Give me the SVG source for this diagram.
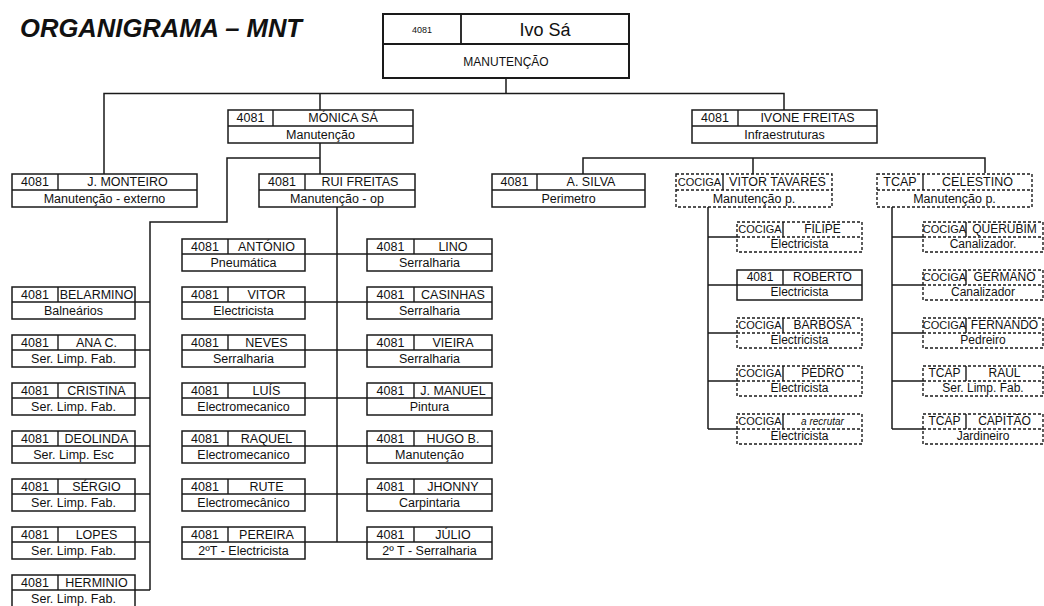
<svg xmlns="http://www.w3.org/2000/svg" width="1044" height="606" viewBox="0 0 1044 606">
<style>
.b{fill:#fff;stroke:#1a1a1a;stroke-width:1.5}
.bd{fill:#fff;stroke:#1a1a1a;stroke-width:1.4;stroke-dasharray:3 2}
.d{fill:none;stroke:#1a1a1a;stroke-width:1.4}
.dd{fill:none;stroke:#1a1a1a;stroke-width:1.4;stroke-dasharray:3 2}
.ln{fill:none;stroke:#1a1a1a;stroke-width:1.5}
text{font-family:"Liberation Sans",Arial,sans-serif;font-size:12.5px;fill:#111;text-anchor:middle}
.s{font-size:12px}
.cc{font-size:11px}
.rec{font-size:10px;font-style:italic}
.title{font-size:25px;font-weight:bold;font-style:italic;text-anchor:start}
</style>
<rect width="1044" height="606" fill="#fff"/>
<text class="title" x="20" y="37" textLength="282" lengthAdjust="spacingAndGlyphs">ORGANIGRAMA – MNT</text>

<g id="connectors">
<path class="ln" d="M506 78V93.5M104 174V93.5H784V110M320 93.5V110M320 143V174M320 158H227V222H150V590"/>
<path class="ln" d="M135 302H150M135 350H150M135 398H150M135 446H150M135 494H150M135 542H150M135 590H150"/>
<path class="ln" d="M337 207V542M305 254H367M305 302H367M305 350H367M305 398H367M305 446H367M305 494H367M305 542H367"/>
<path class="ln" d="M583 174V158H985V173M753 158V174"/>
<path class="ln" d="M708 207V429M708 237H737M708 285H737M708 333H737M708 381H737M708 429H737"/>
<path class="ln" d="M892 206V429M892 237H923M892 285H923M892 333H923M892 381H923M892 429H923"/>
</g>

<g id="n-ivo">
<rect x="383" y="14" width="246" height="64" fill="#fff" stroke="#1a1a1a" stroke-width="2"/>
<path d="M383 44H629M461 14V44" fill="none" stroke="#1a1a1a" stroke-width="1.8"/>
<text x="422" y="33" style="font-size:9px">4081</text>
<text x="545" y="36" style="font-size:18px">Ivo Sá</text>
<text x="506" y="66" style="font-size:12px">MANUTENÇÃO</text>
</g>

<g id="n-monica"><rect class="b" x="228" y="110" width="185" height="33"/><path class="d" d="M228 126H413M273 110V126"/><text x="250.5" y="122">4081</text><text x="343" y="122">MÓNICA SÁ</text><text x="320.5" y="139">Manutenção</text></g>
<g id="n-ivone"><rect class="b" x="692" y="110" width="185" height="33"/><path class="d" d="M692 126H877M738 110V126"/><text x="715" y="122">4081</text><text x="807.5" y="122">IVONE FREITAS</text><text x="784.5" y="139">Infraestruturas</text></g>

<g id="n-monteiro"><rect class="b" x="12" y="174" width="185" height="33"/><path class="d" d="M12 190H197M58 174V190"/><text x="35" y="186">4081</text><text x="127.5" y="186">J. MONTEIRO</text><text x="104.5" y="203">Manutenção - externo</text></g>
<g id="n-rui"><rect class="b" x="259" y="174" width="156" height="33"/><path class="d" d="M259 190H415M305 174V190"/><text x="282" y="186">4081</text><text x="360" y="186">RUI FREITAS</text><text x="337" y="203">Manutenção - op</text></g>
<g id="n-silva"><rect class="b" x="492" y="174" width="153" height="33"/><path class="d" d="M492 190H645M537 174V190"/><text x="514.5" y="186">4081</text><text x="591" y="186">A. SILVA</text><text x="568.5" y="203">Perimetro</text></g>
<g id="n-vitortavares"><rect class="bd" x="676" y="174" width="156" height="33"/><path class="dd" d="M676 190H832"/><path class="d" d="M723 174V190"/><text class="cc" x="699.5" y="186">COCIGA</text><text x="777.5" y="186">VITOR TAVARES</text><text x="754" y="203">Manutenção p.</text></g>
<g id="n-celestino"><rect class="bd" x="877" y="174" width="155" height="33"/><path class="dd" d="M877 190H1032"/><path class="d" d="M923 174V190"/><text x="900" y="186">TCAP</text><text x="977.5" y="186">CELESTINO</text><text x="954.5" y="203">Manutenção p.</text></g>

<!-- left column -->
<g id="n-belarmino"><rect class="b" x="12" y="287" width="123" height="32"/><path class="d" d="M12 302H135M58 287V302"/><text x="35" y="299">4081</text><text x="96.5" y="299">BELARMINO</text><text x="73.5" y="315">Balneários</text></g>
<g id="n-anac"><rect class="b" x="12" y="335" width="123" height="32"/><path class="d" d="M12 350H135M58 335V350"/><text x="35" y="347">4081</text><text x="96.5" y="347">ANA C.</text><text x="73.5" y="363">Ser. Limp. Fab.</text></g>
<g id="n-cristina"><rect class="b" x="12" y="383" width="123" height="32"/><path class="d" d="M12 398H135M58 383V398"/><text x="35" y="395">4081</text><text x="96.5" y="395">CRISTINA</text><text x="73.5" y="411">Ser. Limp. Fab.</text></g>
<g id="n-deolinda"><rect class="b" x="12" y="431" width="123" height="32"/><path class="d" d="M12 446H135M58 431V446"/><text x="35" y="443">4081</text><text x="96.5" y="443">DEOLINDA</text><text x="73.5" y="459">Ser. Limp. Esc</text></g>
<g id="n-sergio"><rect class="b" x="12" y="479" width="123" height="32"/><path class="d" d="M12 494H135M58 479V494"/><text x="35" y="491">4081</text><text x="96.5" y="491">SÉRGIO</text><text x="73.5" y="507">Ser. Limp. Fab.</text></g>
<g id="n-lopes"><rect class="b" x="12" y="527" width="123" height="32"/><path class="d" d="M12 542H135M58 527V542"/><text x="35" y="539">4081</text><text x="96.5" y="539">LOPES</text><text x="73.5" y="555">Ser. Limp. Fab.</text></g>
<g id="n-herminio"><rect class="b" x="12" y="575" width="123" height="32"/><path class="d" d="M12 590H135M58 575V590"/><text x="35" y="587">4081</text><text x="96.5" y="587">HERMINIO</text><text x="73.5" y="603">Ser. Limp. Fab.</text></g>

<!-- middle left column -->
<g id="n-antonio"><rect class="b" x="182" y="239" width="123" height="32"/><path class="d" d="M182 254H305M228 239V254"/><text x="205" y="251">4081</text><text x="266.5" y="251">ANTÓNIO</text><text x="243.5" y="267">Pneumática</text></g>
<g id="n-vitor"><rect class="b" x="182" y="287" width="123" height="32"/><path class="d" d="M182 302H305M228 287V302"/><text x="205" y="299">4081</text><text x="266.5" y="299">VITOR</text><text x="243.5" y="315">Electricista</text></g>
<g id="n-neves"><rect class="b" x="182" y="335" width="123" height="32"/><path class="d" d="M182 350H305M228 335V350"/><text x="205" y="347">4081</text><text x="266.5" y="347">NEVES</text><text x="243.5" y="363">Serralharia</text></g>
<g id="n-luis"><rect class="b" x="182" y="383" width="123" height="32"/><path class="d" d="M182 398H305M228 383V398"/><text x="205" y="395">4081</text><text x="266.5" y="395">LUÍS</text><text x="243.5" y="411">Electromecanico</text></g>
<g id="n-raquel"><rect class="b" x="182" y="431" width="123" height="32"/><path class="d" d="M182 446H305M228 431V446"/><text x="205" y="443">4081</text><text x="266.5" y="443">RAQUEL</text><text x="243.5" y="459">Electromecanico</text></g>
<g id="n-rute"><rect class="b" x="182" y="479" width="123" height="32"/><path class="d" d="M182 494H305M228 479V494"/><text x="205" y="491">4081</text><text x="266.5" y="491">RUTE</text><text x="243.5" y="507">Electromecânico</text></g>
<g id="n-pereira"><rect class="b" x="182" y="527" width="123" height="32"/><path class="d" d="M182 542H305M228 527V542"/><text x="205" y="539">4081</text><text x="266.5" y="539">PEREIRA</text><text x="243.5" y="555">2ºT - Electricista</text></g>

<!-- middle right column -->
<g id="n-lino"><rect class="b" x="367" y="239" width="125" height="32"/><path class="d" d="M367 254H492M414 239V254"/><text x="390.5" y="251">4081</text><text x="453" y="251">LINO</text><text x="429.5" y="267">Serralharia</text></g>
<g id="n-casinhas"><rect class="b" x="367" y="287" width="125" height="32"/><path class="d" d="M367 302H492M414 287V302"/><text x="390.5" y="299">4081</text><text x="453" y="299">CASINHAS</text><text x="429.5" y="315">Serralharia</text></g>
<g id="n-vieira"><rect class="b" x="367" y="335" width="125" height="32"/><path class="d" d="M367 350H492M414 335V350"/><text x="390.5" y="347">4081</text><text x="453" y="347">VIEIRA</text><text x="429.5" y="363">Serralharia</text></g>
<g id="n-jmanuel"><rect class="b" x="367" y="383" width="125" height="32"/><path class="d" d="M367 398H492M414 383V398"/><text x="390.5" y="395">4081</text><text x="453" y="395">J. MANUEL</text><text x="429.5" y="411">Pintura</text></g>
<g id="n-hugo"><rect class="b" x="367" y="431" width="125" height="32"/><path class="d" d="M367 446H492M414 431V446"/><text x="390.5" y="443">4081</text><text x="453" y="443">HUGO B.</text><text x="429.5" y="459">Manutenção</text></g>
<g id="n-jhonny"><rect class="b" x="367" y="479" width="125" height="32"/><path class="d" d="M367 494H492M414 479V494"/><text x="390.5" y="491">4081</text><text x="453" y="491">JHONNY</text><text x="429.5" y="507">Carpintaria</text></g>
<g id="n-julio"><rect class="b" x="367" y="527" width="125" height="32"/><path class="d" d="M367 542H492M414 527V542"/><text x="390.5" y="539">4081</text><text x="453" y="539">JÚLIO</text><text x="429.5" y="555">2º T - Serralharia</text></g>

<!-- right left column -->
<g id="n-filipe"><rect class="bd" x="737" y="222" width="125" height="30"/><path class="dd" d="M737 237H862"/><path class="d" d="M783 222V237"/><text class="cc" x="760" y="233">COCIGA</text><text class="s" x="822.5" y="233">FILIPE</text><text class="s" x="799.5" y="248">Electricista</text></g>
<g id="n-roberto"><rect class="b" x="737" y="270" width="125" height="30"/><path class="d" d="M737 285H862M783 270V285"/><text class="s" x="760" y="281">4081</text><text class="s" x="822.5" y="281">ROBERTO</text><text class="s" x="799.5" y="296">Electricista</text></g>
<g id="n-barbosa"><rect class="bd" x="737" y="318" width="125" height="30"/><path class="dd" d="M737 333H862"/><path class="d" d="M783 318V333"/><text class="cc" x="760" y="329">COCIGA</text><text class="s" x="822.5" y="329">BARBOSA</text><text class="s" x="799.5" y="344">Electricista</text></g>
<g id="n-pedro"><rect class="bd" x="737" y="366" width="125" height="30"/><path class="dd" d="M737 381H862"/><path class="d" d="M783 366V381"/><text class="cc" x="760" y="377">COCIGA</text><text class="s" x="822.5" y="377">PEDRO</text><text class="s" x="799.5" y="392">Electricista</text></g>
<g id="n-recrutar"><rect class="bd" x="737" y="414" width="125" height="30"/><path class="dd" d="M737 429H862"/><path class="d" d="M783 414V429"/><text class="cc" x="760" y="425">COCIGA</text><text class="rec" x="822.5" y="425">a recrutar</text><text class="s" x="799.5" y="440">Electricista</text></g>

<!-- right right column -->
<g id="n-querubim"><rect class="bd" x="923" y="222" width="120" height="30"/><path class="dd" d="M923 237H1043"/><path class="d" d="M966 222V237"/><text class="cc" x="944.5" y="233">COCIGA</text><text class="s" x="1004.5" y="233">QUERUBIM</text><text class="s" x="983" y="248">Canalizador.</text></g>
<g id="n-germano"><rect class="bd" x="923" y="270" width="120" height="30"/><path class="dd" d="M923 285H1043"/><path class="d" d="M966 270V285"/><text class="cc" x="944.5" y="281">COCIGA</text><text class="s" x="1004.5" y="281">GERMANO</text><text class="s" x="983" y="296">Canalizador</text></g>
<g id="n-fernando"><rect class="bd" x="923" y="318" width="120" height="30"/><path class="dd" d="M923 333H1043"/><path class="d" d="M966 318V333"/><text class="cc" x="944.5" y="329">COCIGA</text><text class="s" x="1004.5" y="329">FERNANDO</text><text class="s" x="983" y="344">Pedreiro</text></g>
<g id="n-raul"><rect class="bd" x="923" y="366" width="120" height="30"/><path class="dd" d="M923 381H1043"/><path class="d" d="M966 366V381"/><text class="s" x="944.5" y="377">TCAP</text><text class="s" x="1004.5" y="377">RAUL</text><text class="s" x="983" y="392">Ser. Limp. Fab.</text></g>
<g id="n-capitao"><rect class="bd" x="923" y="414" width="120" height="30"/><path class="dd" d="M923 429H1043"/><path class="d" d="M966 414V429"/><text class="s" x="944.5" y="425">TCAP</text><text class="s" x="1004.5" y="425">CAPITÃO</text><text class="s" x="983" y="440">Jardineiro</text></g>
</svg>
